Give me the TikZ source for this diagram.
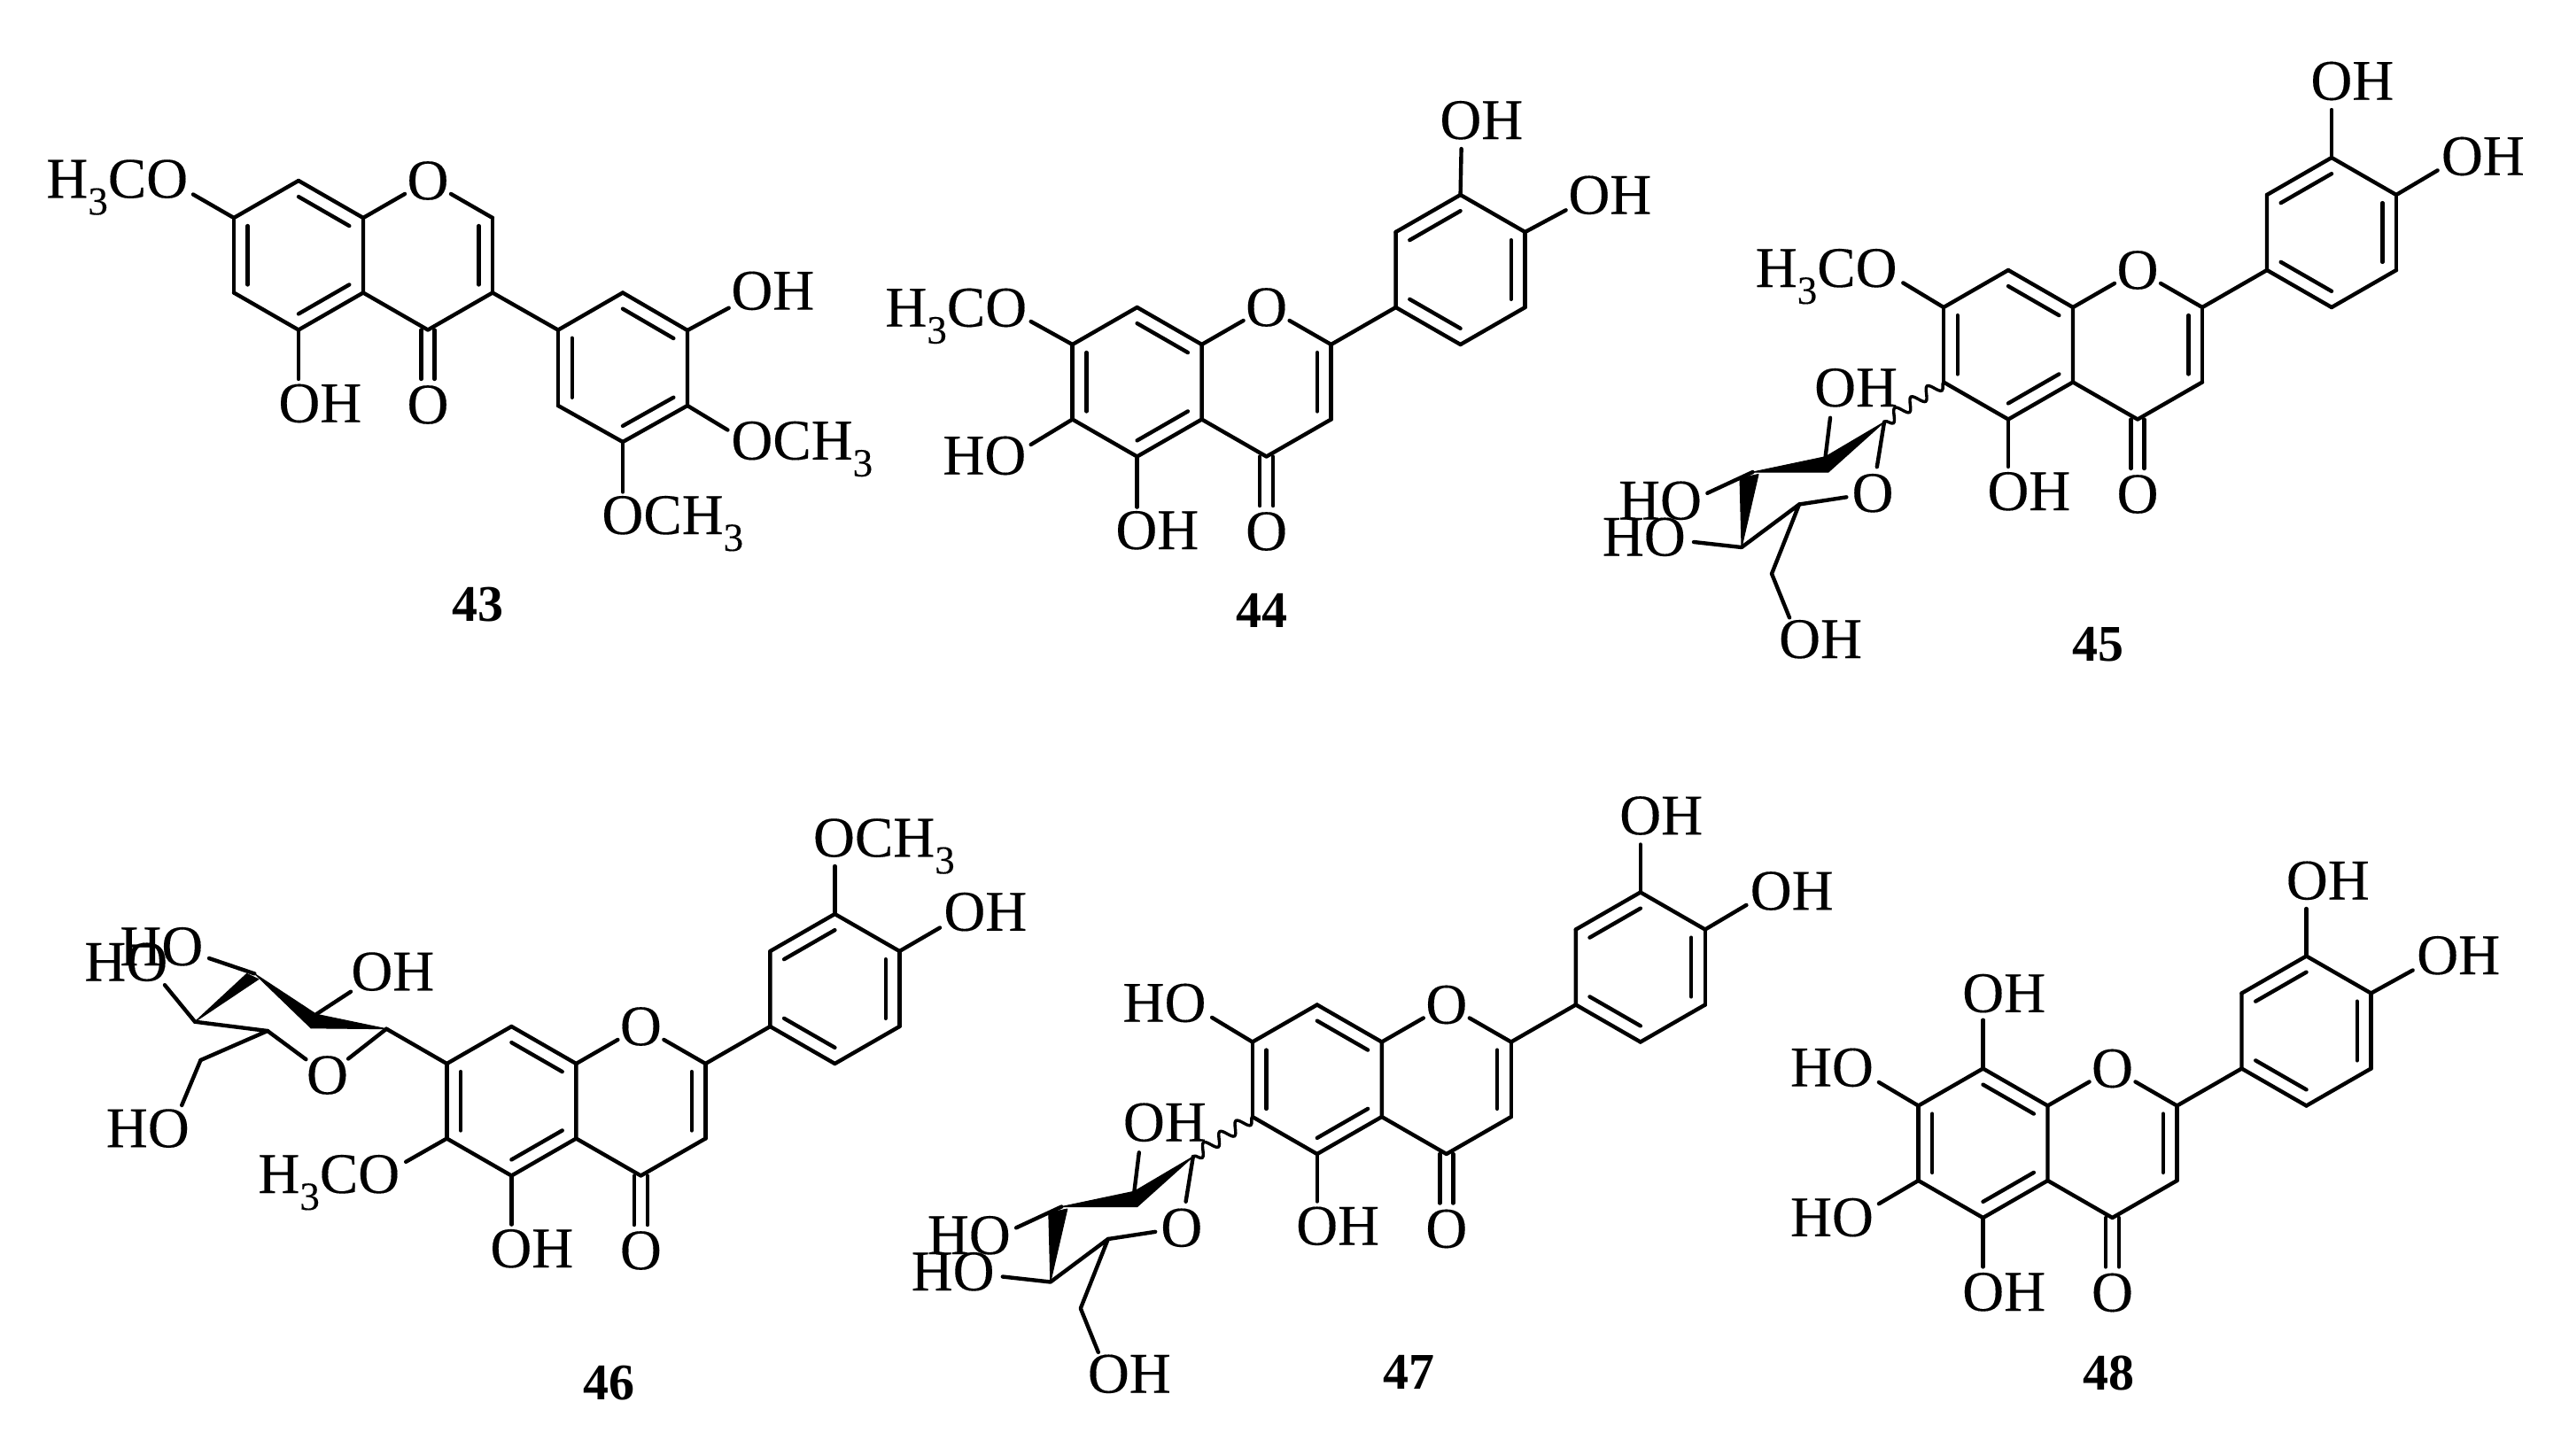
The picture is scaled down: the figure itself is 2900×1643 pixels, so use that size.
\documentclass[tikz,border=0pt]{standalone}
\usepackage{fontspec}
\setmainfont{Liberation Serif}
\newfontfamily\labfont[FakeBold=0.2]{Liberation Serif}
\usetikzlibrary{calc,decorations.pathmorphing}
\newcommand\sbs[1]{\raisebox{-9.5pt}{\fontsize{22.5}{22.5}\selectfont #1}}
\tikzset{
  bond/.style={line width=2.2pt,line cap=round,line join=round,black},
  hetero/.style={bond,shorten >=15pt},
  wedgebond/.style={fill=black,draw=black,line width=.5pt,line join=round},
  wavybond/.style={line width=1.7pt,black,decorate,decoration={snake,segment length=11pt,amplitude=3.4pt}},
  lab/.style={inner sep=0pt,font=\labfont\fontsize{32.5}{36}\selectfont,text=black},
  ltxt/.style={lab,anchor=base west},
  rtxt/.style={lab,anchor=base east},
  atom/.style={lab,anchor=center},
  cpd/.style={inner sep=0pt,anchor=base,font=\fontsize{29}{32}\selectfont\bfseries,text=black},
}
\newcommand\dbl[3]{\draw[bond] (#1)--(#2); \draw[bond] ($(#1)!.215!(#3)$)--($(#2)!.215!(#3)$);}
% free bond: atom, name of free end, end position
\newcommand\sbd[3]{\coordinate (#2) at (#3); \draw[bond] (#1)--(#2);}
% chromone core with C8a at (#2,#3)
\newcommand\chromone[3]{%
  \begin{scope}[shift={(#2,#3)}]
    \coordinate (#1c8a) at (0,0);
    \coordinate (#1c8) at (-73,-42);
    \coordinate (#1c7) at (-146,0);
    \coordinate (#1c6) at (-146,84.5);
    \coordinate (#1c5) at (-73,126.5);
    \coordinate (#1c4a) at (0,84.5);
    \coordinate (#1c4) at (73,126.5);
    \coordinate (#1c3) at (146,84.5);
    \coordinate (#1c2) at (146,0);
    \coordinate (#1ra) at (-73,42.25);
    \coordinate (#1rc) at (73,42.25);
    \coordinate (#1ce1) at (65.5,126.5);
    \coordinate (#1ce2) at (80.5,126.5);
    \coordinate (#1ce3) at (65.5,182);
    \coordinate (#1ce4) at (80.5,182);
    \node[atom] (#1o1) at (73,-42) {O};
    \node[atom] (#1oc) at (73,211) {O};
  \end{scope}
  \dbl{#1c7}{#1c6}{#1ra}
  \dbl{#1c8}{#1c8a}{#1ra}
  \dbl{#1c5}{#1c4a}{#1ra}
  \dbl{#1c2}{#1c3}{#1rc}
  \draw[bond] (#1c7)--(#1c8) (#1c6)--(#1c5) (#1c8a)--(#1c4a) (#1c4a)--(#1c4) (#1c4)--(#1c3);
  \draw[hetero] (#1c8a)--(#1o1.center);
  \draw[hetero] (#1c2)--(#1o1.center);
  \draw[bond] (#1ce1)--(#1ce3) (#1ce2)--(#1ce4);
}
% flavone: chromone + B ring
\newcommand\flavone[3]{%
  \chromone{#1}{#2}{#3}
  \begin{scope}[shift={(#2,#3)}]
    \coordinate (#1p1) at (219,-42);
    \coordinate (#1p2) at (219,-127);
    \coordinate (#1p3) at (292,-169);
    \coordinate (#1p4) at (365,-127);
    \coordinate (#1p5) at (365,-42);
    \coordinate (#1p6) at (292,0);
    \coordinate (#1rb) at (292,-84.5);
  \end{scope}
  \draw[bond] (#1c2)--(#1p1);
  \dbl{#1p1}{#1p6}{#1rb}
  \dbl{#1p2}{#1p3}{#1rb}
  \dbl{#1p4}{#1p5}{#1rb}
  \draw[bond] (#1p1)--(#1p2) (#1p3)--(#1p4) (#1p5)--(#1p6);
}
% C-glycosyl unit of 45 and 47, positions relative to C8a at (#2,#3)
\newcommand\glucoside[3]{%
  \begin{scope}[shift={(#2,#3)}]
    \coordinate (#1s1) at (-213,129.5);
    \coordinate (#1s2) at (-279.4,168.7);
    \coordinate (#1s3) at (-361.5,186);
    \coordinate (#1s2b) at (-276,186);
    \coordinate (#1w1) at (-376,193);
    \coordinate (#1w2) at (-355,188.5);
    \coordinate (#1s4) at (-374,271);
    \coordinate (#1s5) at (-309,222.5);
    \coordinate (#1s6) at (-340,300.8);
    \coordinate (#1e1) at (-274,124.8);
    \coordinate (#1e2) at (-412.7,209.8);
    \coordinate (#1e3) at (-428,265);
    \coordinate (#1e4) at (-320,350.4);
    \node[atom] (#1so) at (-226,209.8) {O};
    \node[ltxt] (#1oh2) at (-292.3,112) {OH};
    \node[ltxt] (#1oh3) at (-513.3,239.5) {HO};
    \node[ltxt] (#1oh4) at (-531.5,280.5) {HO};
    \node[ltxt] (#1oh6) at (-332.3,396) {OH};
  \end{scope}
  \draw[wavybond] (#1c6)--(#1s1);
  \fill[wedgebond] (#1s1)--(#1s2)--(#1s3)--(#1s2b)--cycle;
  \fill[wedgebond] (#1w1)--(#1w2)--(#1s4)--cycle;
  \draw[hetero] (#1s1)--(#1so.center);
  \draw[hetero] (#1s5)--(#1so.center);
  \draw[bond] (#1s5)--(#1s4) (#1s5)--(#1s6)--(#1e4) (#1s2)--(#1e1) (#1s3)--(#1e2) (#1s4)--(#1e3);
}
\begin{document}
\begin{tikzpicture}[x=.5pt,y=-.5pt]
\useasboundingbox (0,0) rectangle (2900,1643);

% ---------- 43
\chromone{a}{410}{246}
\coordinate (ap1) at (630,372.6);
\coordinate (ap2) at (703,330.5);
\coordinate (ap3) at (776,373);
\coordinate (ap4) at (776,458);
\coordinate (ap5) at (703,499);
\coordinate (ap6) at (630,458);
\coordinate (arb) at (703,415);
\draw[bond] (ac3)--(ap1);
\dbl{ap2}{ap3}{arb}
\dbl{ap4}{ap5}{arb}
\dbl{ap6}{ap1}{arb}
\draw[bond] (ap1)--(ap2) (ap3)--(ap4) (ap5)--(ap6);
\node[ltxt] (at1) at (52,223.3) {H\sbs{3}CO};
\sbd{ac7}{ae1}{218,219.5}
\node[ltxt] (at2) at (314,476.7) {OH};
\sbd{ac5}{ae2}{337,428}
\node[ltxt] (at3) at (825,349.6) {OH};
\sbd{ap3}{ae3}{822.7,347.7}
\node[ltxt] (at4) at (825,518.8) {OCH\sbs{3}};
\sbd{ap4}{ae4}{821.4,485.5}
\node[ltxt] (at5) at (679,603) {OCH\sbs{3}};
\sbd{ap5}{ae5}{703,555.5}
\node[cpd] (an) at (539,701) {43};

% ---------- 44
\flavone{b}{1356.6}{389}
\sbd{bp3}{be1}{1649.6,168}
\node[ltxt] (bt1) at (1625,157) {OH};
\sbd{bp4}{be2}{1767.6,237.3}
\node[ltxt] (bt2) at (1770,241.5) {OH};
\sbd{bc7}{be3}{1163.7,363}
\node[ltxt] (bt3) at (999,368.7) {H\sbs{3}CO};
\sbd{bc6}{be4}{1163.7,502}
\node[ltxt] (bt4) at (1064,535.7) {HO};
\sbd{bc5}{be5}{1283.6,572.6}
\node[ltxt] (bt5) at (1259,620) {OH};
\node[cpd] (bn) at (1424,708) {44};

% ---------- 45
\flavone{c}{2340}{347}
\glucoside{c}{2340}{347}
\sbd{cp3}{ce1}{2632,124}
\node[ltxt] (ct1) at (2608,112.7) {OH};
\sbd{cp4}{ce2}{2751.6,192.4}
\node[ltxt] (ct2) at (2755.5,197.7) {OH};
\sbd{cc7}{ce3}{2148.3,319.4}
\node[ltxt] (ct3) at (1981.4,324) {H\sbs{3}CO};
\sbd{cc5}{ce4}{2267,527}
\node[ltxt] (ct4) at (2243,576) {OH};
\node[cpd] (cn) at (2368,746.5) {45};

% ---------- 46
\flavone{d}{650.4}{1201}
\sbd{dp3}{de1}{942.4,978}
\node[ltxt] (dt1) at (917.6,967.3) {OCH\sbs{3}};
\sbd{dp4}{de2}{1061,1047.5}
\node[ltxt] (dt2) at (1065,1050.8) {OH};
\sbd{dc6}{de3}{458.2,1311.8}
\node[ltxt] (dt3) at (291,1347) {H\sbs{3}CO};
\sbd{dc5}{de4}{577.4,1382.6}
\node[ltxt] (dt4) at (553,1431) {OH};
\node[cpd] (dn) at (687,1580) {46};
% sugar of 46
\coordinate (ds1) at (436.2,1161.7);
\coordinate (ds2) at (357,1145.2);
\coordinate (ds2b) at (351,1160.8);
\coordinate (ds3) at (287.4,1099.4);
\coordinate (dw1) at (278.6,1099.4);
\coordinate (dw2) at (291.8,1105.6);
\coordinate (ds4) at (220,1153.7);
\coordinate (ds5) at (302,1164);
\coordinate (ds6) at (226.5,1197);
\node[atom] (dso) at (369.5,1214) {O};
\fill[wedgebond] (ds1)--(ds2)--(ds2b)--cycle;
\fill[wedgebond] (ds3)--(ds2)--(ds2b)--cycle;
\fill[wedgebond] (dw1)--(dw2)--(ds4)--cycle;
\draw[bond] (dc7)--(ds1);
\draw[hetero] (ds1)--(dso.center);
\draw[hetero] (ds5)--(dso.center);
\draw[bond] (ds4)--(ds5) (ds5)--(ds6);
\sbd{ds2}{de5}{396,1119.7}
\sbd{ds3}{de6}{236,1082}
\sbd{ds4}{de7}{186,1112.2}
\sbd{ds6}{de8}{205.2,1248}
\node[ltxt] (ds2t) at (396,1118.3) {OH};
\node[ltxt] (ds3t) at (135,1090) {HO};
\node[ltxt] (ds4t) at (95,1107.5) {HO};
\node[ltxt] (ds6t) at (119.5,1295.3) {HO};

% ---------- 47
\flavone{e}{1559.8}{1176.5}
\glucoside{e}{1559.8}{1176.5}
\sbd{ep3}{ee1}{1851.8,953.5}
\node[ltxt] (et1) at (1827.8,942.2) {OH};
\sbd{ep4}{ee2}{1971.4,1021.9}
\node[ltxt] (et2) at (1975.3,1027.2) {OH};
\sbd{ec7}{ee3}{1368.1,1148.9}
\node[ltxt] (et3) at (1267.2,1153.7) {HO};
\sbd{ec5}{ee4}{1486.8,1356.5}
\node[ltxt] (et4) at (1462.8,1405.5) {OH};
\node[cpd] (en) at (1590.7,1568) {47};

% ---------- 48
\flavone{f}{2311.5}{1248.5}
\sbd{fp3}{fe1}{2603.5,1026}
\node[ltxt] (ft1) at (2580.4,1015.5) {OH};
\sbd{fp4}{fe2}{2723.6,1095.5}
\node[ltxt] (ft2) at (2727.8,1100) {OH};
\sbd{fc8}{fe3}{2238.5,1151.7}
\node[ltxt] (ft3) at (2214.8,1142.8) {OH};
\sbd{fc7}{fe4}{2120.9,1222}
\node[ltxt] (ft4) at (2020.6,1226.6) {HO};
\sbd{fc6}{fe5}{2120.9,1359.2}
\node[ltxt] (ft5) at (2020.6,1395.8) {HO};
\sbd{fc5}{fe6}{2238.5,1430.4}
\node[ltxt] (ft6) at (2214.8,1480) {OH};
\node[cpd] (fn) at (2380,1569.8) {48};
\end{tikzpicture}
\end{document}
